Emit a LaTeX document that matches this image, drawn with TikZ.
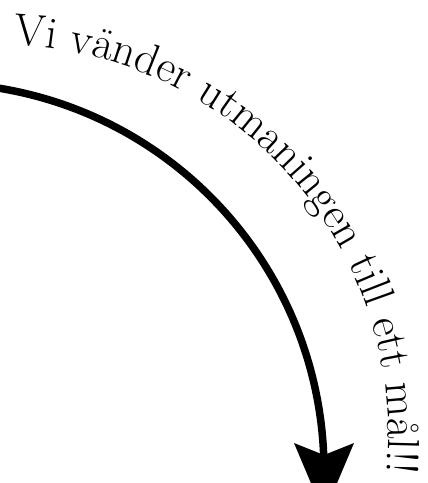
\documentclass[tikz,border=0pt]{standalone}
\usetikzlibrary{decorations.text}
\begin{document}
\begin{tikzpicture}[x=1pt,y=-1pt,
  bigline/.style={line width=7.5pt},
  headfill/.style={fill=black},
  slogan/.style={decorate,decoration={text along path,text align=left,
     text format delimiters={|}{|},
     text={|\fontsize{45}{45}\selectfont|Vi vänder utmaningen till ett mål!!}}}]
\useasboundingbox (0,0) rectangle (428,483);
% arrow
\coordinate (s) at (-10,86.8);
\draw[bigline] (s) arc[start angle=-82, end angle=0, radius=388] coordinate (e);
\coordinate (tip) at (324,514);
\coordinate (cl) at (294,443);
\coordinate (notch) at (324,455);
\coordinate (cr) at (354,443);
\fill[headfill] (tip) -- (cl) -- (notch) -- (cr) -- cycle;
% text
\coordinate (ts) at (13,45);
\path[slogan] (ts) arc[start angle=-87.8, end angle=25, radius=390];
\end{tikzpicture}
\end{document}
